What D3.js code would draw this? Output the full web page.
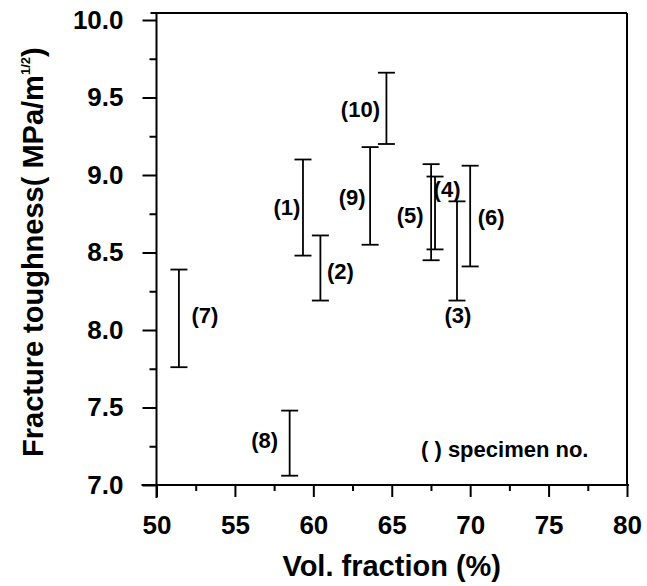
<!DOCTYPE html>
<html>
<head>
<meta charset="utf-8">
<script src="https://cdn.jsdelivr.net/npm/d3@7"></script>
<style>
  html, body { margin: 0; padding: 0; background: #fff; }
  svg text { font-family: "Liberation Sans", Arial, sans-serif; font-weight: bold; fill: #000; }
</style>
</head>
<body>
<svg id="chart" width="647" height="586"></svg>
<script>
// ---- data ----
const specimens = ["(1)", "(2)", "(3)", "(4)", "(5)", "(6)", "(7)", "(8)", "(9)", "(10)"];
const volFraction = [59.34, 60.45, 69.16, 67.76, 67.51, 70.0, 51.43, 58.49, 63.62, 64.66];
const toughLow  = [8.48, 8.19, 8.19, 8.52, 8.45, 8.41, 7.76, 7.06, 8.55, 9.20];
const toughHigh = [9.10, 8.61, 8.83, 8.99, 9.07, 9.06, 8.39, 7.48, 9.18, 9.66];
const xTicks = [50, 55, 60, 65, 70, 75, 80];
const xMinorTicks = [52.5, 57.5, 62.5, 67.5, 72.5, 77.5];
const yTicks = [7.0, 7.5, 8.0, 8.5, 9.0, 9.5, 10.0];
const yMinorTicks = [7.25, 7.75, 8.25, 8.75, 9.25, 9.75];

// ---- layout (pixel offsets of labels from the bar) ----
const labelOffsets = [
  {dx: -16, dy: 0, ref: "mid"},   // (1)
  {dx: 20, dy: 3, ref: "mid"},    // (2)
  {dx: 1, dy: 15, ref: "low"},    // (3)
  {dx: 12, dy: -23, ref: "mid"},  // (4)
  {dx: -21, dy: 3, ref: "mid"},   // (5)
  {dx: 21, dy: 1, ref: "mid"},    // (6)
  {dx: 26, dy: -3, ref: "mid"},   // (7)
  {dx: -25, dy: -3, ref: "mid"},  // (8)
  {dx: -18, dy: 2, ref: "mid"},   // (9)
  {dx: -26, dy: 1, ref: "mid"}    // (10)
];

(function () {
const svg = d3.select("#chart");
const mLeft = 156.5, mRight = 627, mTop = 20, mBottom = 485;

const x = d3.scaleLinear().domain([50, 80]).range([mLeft, mRight]);
const y = d3.scaleLinear().domain([7, 10]).range([mBottom, mTop]);

// frame (top and right lines)
svg.append("line").attr("x1", mLeft - 6).attr("x2", mRight).attr("y1", 13).attr("y2", 13)
  .attr("stroke", "#000").attr("stroke-width", 2);
svg.append("line").attr("x1", mRight).attr("x2", mRight).attr("y1", 13).attr("y2", mBottom)
  .attr("stroke", "#000").attr("stroke-width", 2);

// x axis
const xAxis = svg.append("g").attr("transform", `translate(0,${mBottom})`)
  .call(d3.axisBottom(x).tickValues(xTicks).tickFormat(d3.format("d")).tickSize(12).tickPadding(19));
xAxis.select(".domain").attr("stroke-width", 2).attr("d", `M${mLeft - 15},0H${mRight + 2}`);
xAxis.selectAll(".tick line").attr("stroke-width", 2);
xAxis.selectAll(".tick text").style("font-size", "26px");
svg.append("g").attr("transform", `translate(0,${mBottom})`)
  .call(d3.axisBottom(x).tickValues(xMinorTicks).tickFormat("").tickSize(6))
  .call(g => g.select(".domain").remove())
  .call(g => g.selectAll("line").attr("stroke-width", 2));

// y axis
const yAxis = svg.append("g").attr("transform", `translate(${mLeft},0)`)
  .call(d3.axisLeft(y).tickValues(yTicks).tickFormat(d3.format(".1f")).tickSize(14).tickPadding(19));
yAxis.select(".domain").attr("stroke-width", 2).attr("d", `M0,13V${mBottom + 13}`);
yAxis.selectAll(".tick line").attr("stroke-width", 2);
yAxis.selectAll(".tick text").style("font-size", "26px");
svg.append("g").attr("transform", `translate(${mLeft},0)`)
  .call(d3.axisLeft(y).tickValues(yMinorTicks).tickFormat("").tickSize(7))
  .call(g => g.select(".domain").remove())
  .call(g => g.selectAll("line").attr("stroke-width", 2));

// error bars
const data = specimens.map((s, i) => ({
  name: s, x: volFraction[i], lo: toughLow[i], hi: toughHigh[i], off: labelOffsets[i]
}));
const capHalf = 8.5;
const bars = svg.append("g").selectAll("g").data(data).join("g");
bars.append("line")
  .attr("x1", d => x(d.x)).attr("x2", d => x(d.x))
  .attr("y1", d => y(d.hi)).attr("y2", d => y(d.lo))
  .attr("stroke", "#000").attr("stroke-width", 1.8);
bars.append("line")
  .attr("x1", d => x(d.x) - capHalf).attr("x2", d => x(d.x) + capHalf)
  .attr("y1", d => y(d.hi)).attr("y2", d => y(d.hi))
  .attr("stroke", "#000").attr("stroke-width", 1.8);
bars.append("line")
  .attr("x1", d => x(d.x) - capHalf).attr("x2", d => x(d.x) + capHalf)
  .attr("y1", d => y(d.lo)).attr("y2", d => y(d.lo))
  .attr("stroke", "#000").attr("stroke-width", 1.8);
bars.append("text")
  .attr("x", d => x(d.x) + d.off.dx)
  .attr("y", d => (d.off.ref === "low" ? y(d.lo) : (y(d.lo) + y(d.hi)) / 2) + d.off.dy)
  .attr("text-anchor", "middle").attr("dominant-baseline", "central")
  .style("font-size", "22px")
  .text(d => d.name);

// note
svg.append("text").attr("x", 421).attr("y", 457).style("font-size", "22px")
  .text("( ) specimen no.");

// axis titles
svg.append("text").attr("x", (mLeft + mRight) / 2).attr("y", 576).attr("text-anchor", "middle")
  .style("font-size", "29px").text("Vol. fraction (%)");

const yTitle = svg.append("text")
  .attr("transform", "translate(43,457) rotate(-90)")
  .attr("text-anchor", "start")
  .style("font-size", "29px");
yTitle.append("tspan").text("Fracture toughness( MPa/m");
yTitle.append("tspan").attr("dy", -13).style("font-size", "13px").text("1/2");
yTitle.append("tspan").attr("dy", 13).text(")");
})();
</script>
</body>
</html>
